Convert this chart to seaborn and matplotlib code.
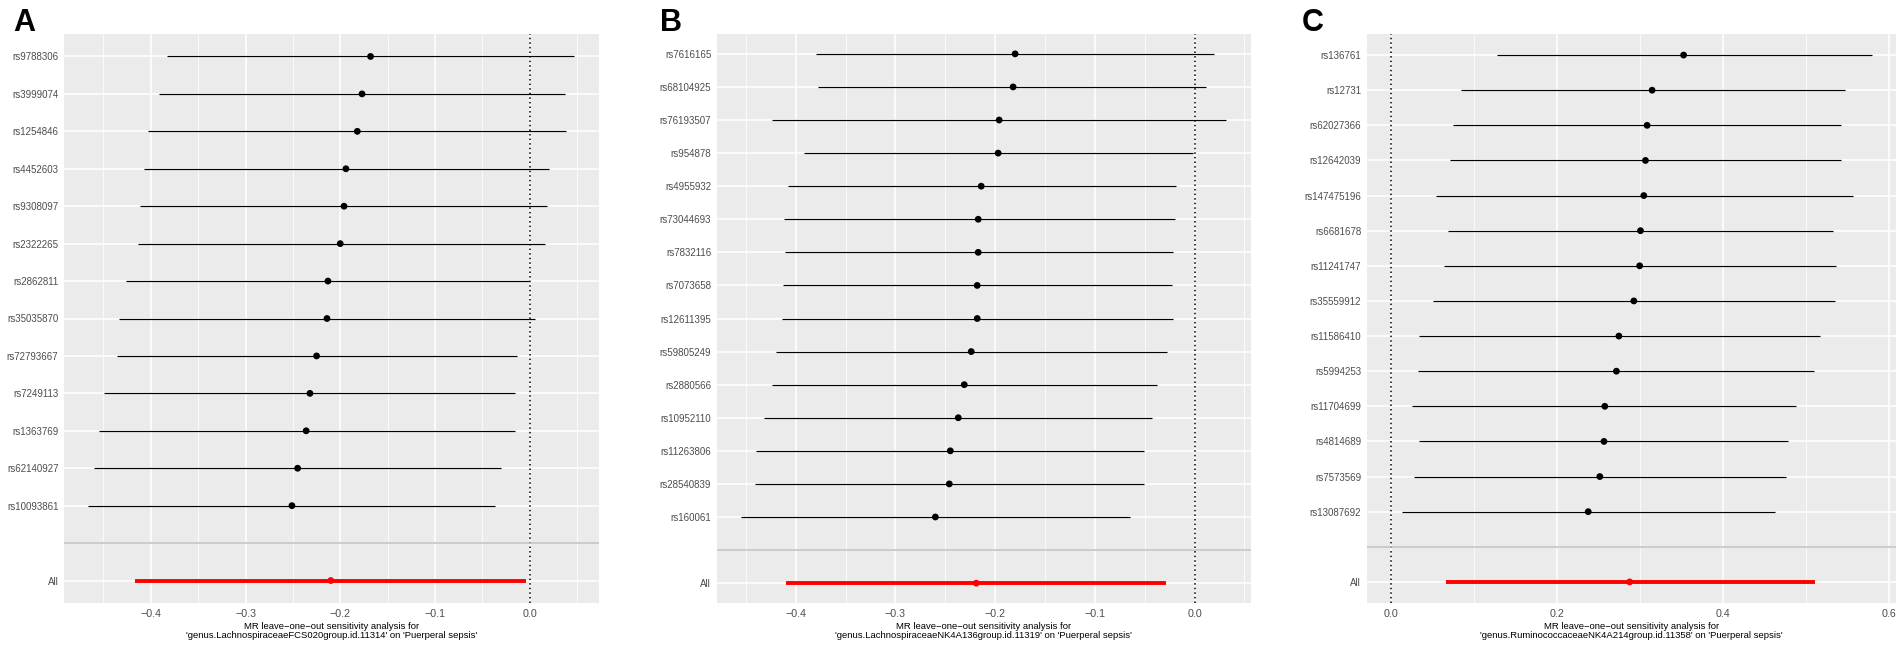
import numpy as np
import pandas as pd
import matplotlib
matplotlib.use("Agg")
import matplotlib.pyplot as plt
from matplotlib.ticker import MultipleLocator, FuncFormatter
import seaborn as sns

# Panel A: SNPs listed top to bottom as they appear
snp_a = ['rs9788306', 'rs3999074', 'rs1254846', 'rs4452603', 'rs9308097',
         'rs2322265', 'rs2862811', 'rs35035870', 'rs72793667', 'rs7249113',
         'rs1363769', 'rs62140927', 'rs10093861']
b_a = [-0.168, -0.177, -0.182, -0.194, -0.196, -0.200, -0.213, -0.214,
       -0.225, -0.232, -0.236, -0.245, -0.251]
lo_a = [-0.383, -0.391, -0.403, -0.407, -0.411, -0.414, -0.426, -0.434,
        -0.436, -0.449, -0.455, -0.460, -0.466]
up_a = [0.047, 0.037, 0.038, 0.020, 0.018, 0.016, -0.001, 0.006,
        -0.013, -0.016, -0.016, -0.030, -0.037]
all_a = [-0.210, -0.417, -0.004]   # b, lo, up
exp_a = 'genus.LachnospiraceaeFCS020group.id.11314'

# Panel B
snp_b = ['rs7616165', 'rs68104925', 'rs76193507', 'rs954878', 'rs4955932',
         'rs73044693', 'rs7832116', 'rs7073658', 'rs12611395', 'rs59805249',
         'rs2880566', 'rs10952110', 'rs11263806', 'rs28540839', 'rs160061']
b_b = [-0.180, -0.182, -0.196, -0.197, -0.214, -0.217, -0.217, -0.218,
       -0.218, -0.224, -0.231, -0.237, -0.245, -0.246, -0.260]
lo_b = [-0.380, -0.378, -0.424, -0.392, -0.408, -0.412, -0.411, -0.413,
        -0.414, -0.420, -0.424, -0.432, -0.440, -0.441, -0.455]
up_b = [0.020, 0.012, 0.032, -0.002, -0.019, -0.020, -0.022, -0.023,
        -0.022, -0.028, -0.038, -0.043, -0.051, -0.051, -0.065]
all_b = [-0.219, -0.410, -0.029]
exp_b = 'genus.LachnospiraceaeNK4A136group.id.11319'

# Panel C
snp_c = ['rs136761', 'rs12731', 'rs62027366', 'rs12642039', 'rs147475196',
         'rs6681678', 'rs11241747', 'rs35559912', 'rs11586410', 'rs5994253',
         'rs11704699', 'rs4814689', 'rs7573569', 'rs13087692']
b_c = [0.353, 0.315, 0.309, 0.307, 0.305, 0.301, 0.300, 0.293,
       0.275, 0.272, 0.258, 0.257, 0.252, 0.238]
lo_c = [0.128, 0.085, 0.075, 0.071, 0.054, 0.069, 0.064, 0.051,
        0.034, 0.033, 0.026, 0.034, 0.028, 0.014]
up_c = [0.580, 0.547, 0.543, 0.543, 0.557, 0.533, 0.537, 0.535,
        0.517, 0.510, 0.489, 0.479, 0.477, 0.463]
all_c = [0.288, 0.066, 0.511]
exp_c = 'genus.RuminococcaceaeNK4A214group.id.11358'

outcome = 'Puerperal sepsis'


def make_frame(snps, b, lo, up, total):
    # bottom-up order: All at 1, blank spacer at 2, SNPs from 3 upward
    df = pd.DataFrame({'SNP': snps[::-1], 'b': b[::-1], 'lo': lo[::-1], 'up': up[::-1]})
    df['pos'] = np.arange(len(df)) + 3
    df['tot'] = 'snp'
    row = pd.DataFrame({'SNP': ['All'], 'b': [total[0]], 'lo': [total[1]],
                        'up': [total[2]], 'pos': [1], 'tot': ['all']})
    return pd.concat([row, df], ignore_index=True)


def minus_fmt(x, pos):
    s = f"{x:.1f}"
    if s == "-0.0":
        s = "0.0"
    return s.replace('-', '\u2212')


def draw(ax, df, exposure, step):
    ax.set_facecolor('#EBEBEB')
    for sp in ax.spines.values():
        sp.set_visible(False)

    # ggplot-like limits: include the vline at 0, expand by 5 %
    xmin = min(df['lo'].min(), 0)
    xmax = max(df['up'].max(), 0)
    pad = (xmax - xmin) * 0.05
    ax.set_xlim(xmin - pad, xmax + pad)
    ax.set_ylim(0.4, df['pos'].max() + 0.6)

    ax.xaxis.set_major_locator(MultipleLocator(step))
    ax.xaxis.set_minor_locator(MultipleLocator(step / 2))
    ax.xaxis.set_major_formatter(FuncFormatter(minus_fmt))

    ticks = list(df['pos']) + [2]
    labels = list(df['SNP']) + ['']
    ax.set_yticks(ticks)
    ax.set_yticklabels(labels)

    ax.grid(which='major', color='white', lw=1.1)
    ax.grid(which='minor', axis='x', color='white', lw=0.55)
    ax.grid(which='minor', axis='y', visible=False)
    ax.set_axisbelow(True)

    ax.tick_params(axis='x', which='major', length=2.8, width=0.8, color='#333333',
                   labelsize=7.7, labelcolor='#4D4D4D', pad=1.5)
    ax.tick_params(axis='y', which='major', length=2.8, width=0.5, color='#333333',
                   labelsize=7.0, labelcolor='#4D4D4D', pad=1.2)
    ax.tick_params(which='minor', length=0)

    ax.axvline(0, color='black', ls=(0, (1, 2)), lw=1.1, zorder=1.5)

    snp = df[df['tot'] == 'snp']
    tot = df[df['tot'] == 'all']
    ax.hlines(snp['pos'], snp['lo'], snp['up'], color='black', lw=0.85, zorder=2)
    ax.hlines(tot['pos'], tot['lo'], tot['up'], color='#FF0000', lw=2.8, zorder=2)
    sns.scatterplot(data=df, x='b', y='pos', hue='tot',
                    palette={'snp': 'black', 'all': '#FF0000'},
                    s=24, edgecolor='none', legend=False, ax=ax, zorder=3)
    ax.axhline(2, color='#BEBEBE', lw=1.1, zorder=4)

    ax.set_ylabel('')
    ax.set_xlabel("MR leave\u2212one\u2212out sensitivity analysis for\n'"
                  + exposure + "' on '" + outcome + "'",
                  fontsize=6.8, color='black', labelpad=2, linespacing=1.1)


sns.set_theme(style="darkgrid")
plt.rcParams['font.family'] = ['Liberation Sans', 'DejaVu Sans']

W, H = 1902, 650
fig = plt.figure(figsize=(W / 100, H / 100), dpi=100)
fig.patch.set_facecolor('white')

bottom = (H - 603) / H
height = (603 - 34) / H
panels = [
    (64, 598.5, make_frame(snp_a, b_a, lo_a, up_a, all_a), exp_a, 0.1, 'A', 13),
    (716.7, 1250.7, make_frame(snp_b, b_b, lo_b, up_b, all_b), exp_b, 0.1, 'B', 660),
    (1366.7, 1896, make_frame(snp_c, b_c, lo_c, up_c, all_c), exp_c, 0.2, 'C', 1302),
]

for left, right, df, exposure, step, tag, tx in panels:
    ax = fig.add_axes([left / W, bottom, (right - left) / W, height])
    draw(ax, df, exposure, step)
    fig.text(tx / W, 1 - 31 / H, tag, fontsize=22, fontweight='bold',
             color='black', va='baseline', ha='left')

fig.savefig('out.png', dpi=100, facecolor='white')
